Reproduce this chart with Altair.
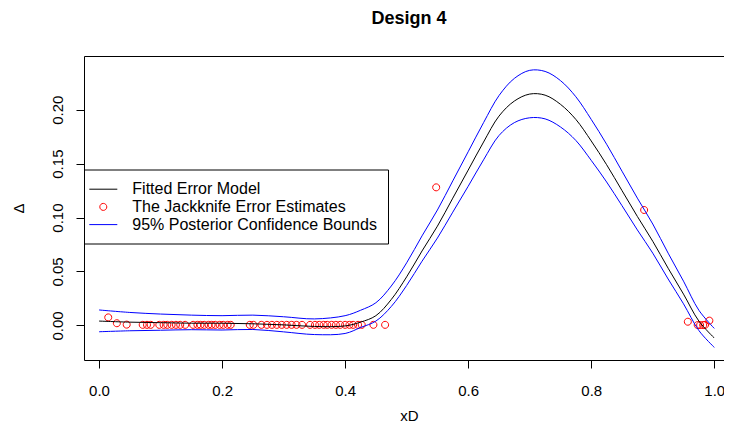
import altair as alt
import pandas as pd

# ---- data ----
grid_x = [0.00, 0.05, 0.10, 0.15, 0.20, 0.25, 0.30, 0.35, 0.40,
          0.425, 0.45, 0.475, 0.50, 0.525, 0.55, 0.575, 0.60, 0.625, 0.65, 0.675,
          0.70, 0.725, 0.75, 0.775, 0.80, 0.825, 0.85, 0.875, 0.90, 0.925, 0.95,
          0.975, 1.00]
fit_y = [0.004, 0.003, 0.0025, 0.002, 0.002, 0.0015, 0.0005, -0.001, -0.0005,
         0.003, 0.009, 0.024, 0.045, 0.069, 0.092, 0.118, 0.144, 0.170, 0.194, 0.208,
         0.2145, 0.2135, 0.205, 0.191, 0.171, 0.149, 0.125, 0.101, 0.078, 0.053, 0.029,
         0.004, -0.0117]
upper_y = [0.0143, 0.012, 0.0105, 0.0095, 0.009, 0.0095, 0.008, 0.006, 0.009,
           0.014, 0.021, 0.0365, 0.058, 0.083, 0.107, 0.134, 0.161, 0.188, 0.213, 0.229,
           0.2365, 0.2355, 0.227, 0.212, 0.191, 0.168, 0.143, 0.118, 0.094, 0.067, 0.041,
           0.014, -0.0028]
lower_y = [-0.0059, -0.005, -0.0045, -0.004, -0.0043, -0.0038, -0.006, -0.0085, -0.0075,
           -0.002, 0.004, 0.0175, 0.037, 0.0595, 0.081, 0.105, 0.129, 0.1535, 0.176, 0.188,
           0.1925, 0.1915, 0.184, 0.1715, 0.153, 0.133, 0.111, 0.0885, 0.067, 0.043, 0.020,
           -0.0048, -0.0204]

pt_x = [0.015, 0.029, 0.045, 0.071, 0.078, 0.084, 0.098, 0.105, 0.111, 0.118, 0.125,
        0.132, 0.140, 0.153, 0.160, 0.165, 0.171, 0.178, 0.183, 0.189, 0.196, 0.202,
        0.209, 0.214, 0.245, 0.251, 0.264, 0.273, 0.281, 0.289, 0.297, 0.305, 0.313,
        0.321, 0.330, 0.343, 0.351, 0.358, 0.365, 0.371, 0.378, 0.385, 0.392, 0.400,
        0.407, 0.413, 0.421, 0.427, 0.446, 0.465,
        0.548, 0.886,
        0.957, 0.973, 0.977, 0.982, 0.985, 0.992]
pt_y = [0.0074, 0.002, 0.0007, 0.0005, 0.0005, 0.0005, 0.0005, 0.0005, 0.0005, 0.0005, 0.0005,
        0.0005, 0.0005, 0.0005, 0.0005, 0.0005, 0.0005, 0.0005, 0.0005, 0.0005, 0.0005, 0.0005,
        0.0005, 0.0005, 0.0005, 0.0005, 0.0005, 0.0005, 0.0005, 0.0005, 0.0005, 0.0005, 0.0005,
        0.0005, 0.0005, 0.0005, 0.0005, 0.0005, 0.0005, 0.0005, 0.0005, 0.0005, 0.0005, 0.0005,
        0.0005, 0.0005, 0.0005, 0.0005, 0.0005, 0.0005,
        0.128, 0.107,
        0.0034, 0.0003, 0.0003, 0.0003, 0.0005, 0.0044]

x_ticks = [0.0, 0.2, 0.4, 0.6, 0.8, 1.0]
y_ticks = [0.00, 0.05, 0.10, 0.15, 0.20]

S_FIT = "Fitted Error Model"
S_PTS = "The Jackknife Error Estimates"
S_CB = "95% Posterior Confidence Bounds"
series_order = [S_FIT, S_PTS, S_CB]
series_colors = ["black", "red", "blue"]

rows = []
for name, ser, ys in [("fit", S_FIT, fit_y), ("upper", S_CB, upper_y), ("lower", S_CB, lower_y)]:
    for xv, yv in zip(grid_x, ys):
        rows.append({"x": xv, "y": yv, "series": ser, "curve": name})
lines_df = pd.DataFrame(rows)
pts_df = pd.DataFrame({"x": pt_x, "y": pt_y, "series": [S_PTS] * len(pt_x)})

FONT = "Liberation Sans"
# legend / point glyphs in Vega's unit symbol space: a line segment and an open circle
LINE_PATH = "M-1.647,0H1.647"
CIRCLE_PATH = "M-0.412,0A0.412,0.412,0,1,0,0.412,0A0.412,0.412,0,1,0,-0.412,0Z"
SYMBOL_SIZE = 289

color_scale = alt.Scale(domain=series_order, range=series_colors)
shape_scale = alt.Scale(domain=series_order, range=[LINE_PATH, CIRCLE_PATH, LINE_PATH])

legend = alt.Legend(
    title=None, orient="none", legendX=0, legendY=113.5,
    strokeColor="black", fillColor="white", padding=10.7, cornerRadius=0,
    labelFont=FONT, labelFontSize=16, labelColor="black", labelLimit=0,
    labelOffset=20, rowPadding=0.7, symbolSize=SYMBOL_SIZE, symbolOffset=-0.4,
    symbolStrokeWidth=1, symbolFillColor="transparent",
)

x_scale = alt.Scale(domain=[-0.0244, 1.0158], nice=False, zero=False)
y_scale = alt.Scale(domain=[-0.0321, 0.2498], nice=False, zero=False)

x_axis_bottom = alt.Axis(
    orient="bottom", values=x_ticks, format=".1f", grid=False,
    domain=True, domainColor="black", domainWidth=1,
    tickColor="black", tickSize=8, tickWidth=1,
    labelFont=FONT, labelFontSize=15, labelColor="black", labelPadding=15,
    title="xD", titleFont=FONT, titleFontSize=15, titleFontWeight="normal",
    titleColor="black", titleX=325, titleY=55, titleAlign="center", titleBaseline="middle",
)
x_axis_top = alt.Axis(
    orient="top", grid=False, ticks=False, labels=False, title=None,
    domain=True, domainColor="black", domainWidth=1,
)
y_axis = alt.Axis(
    values=y_ticks, format=".2f", grid=False,
    domain=True, domainColor="black", domainWidth=1,
    tickColor="black", tickSize=8, tickWidth=1,
    labelFont=FONT, labelFontSize=15, labelColor="black", labelPadding=11,
    labelAngle=270, labelAlign="center", labelBaseline="bottom",
    title="Δ", titleFont=FONT, titleFontSize=15, titleFontWeight="normal",
    titleColor="black", titleX=-66, titleY=152, titleAngle=270,
    titleAlign="center", titleBaseline="middle",
)

points = alt.Chart(pts_df).mark_point(filled=False, strokeWidth=1, size=SYMBOL_SIZE, opacity=1).encode(
    x=alt.X("x:Q", scale=x_scale, axis=x_axis_bottom),
    y=alt.Y("y:Q", scale=y_scale, axis=y_axis),
    color=alt.Color("series:N", scale=color_scale, legend=legend),
    shape=alt.Shape("series:N", scale=shape_scale, legend=legend),
)

lines = alt.Chart(lines_df).mark_line(strokeWidth=1, interpolate="catmull-rom").encode(
    x=alt.X("x:Q", scale=x_scale, axis=x_axis_top),
    y=alt.Y("y:Q", scale=y_scale, axis=y_axis),
    color=alt.Color("series:N", scale=color_scale, legend=legend),
    detail="curve:N",
)

chart = alt.layer(points, lines).resolve_axis(x="independent").properties(
    width=640, height=304,
    title=alt.TitleParams("Design 4", font=FONT, fontSize=18, fontWeight="bold",
                          color="black", anchor="middle", frame="group",
                          baseline="alphabetic", offset=14, dx=5),
    autosize=alt.AutoSizeParams(type="none"),
    padding={"left": 76, "top": 48, "right": 0, "bottom": 66},
).configure_view(stroke="transparent")

chart.save("out.html", embed_options={"renderer": "svg", "actions": False})
